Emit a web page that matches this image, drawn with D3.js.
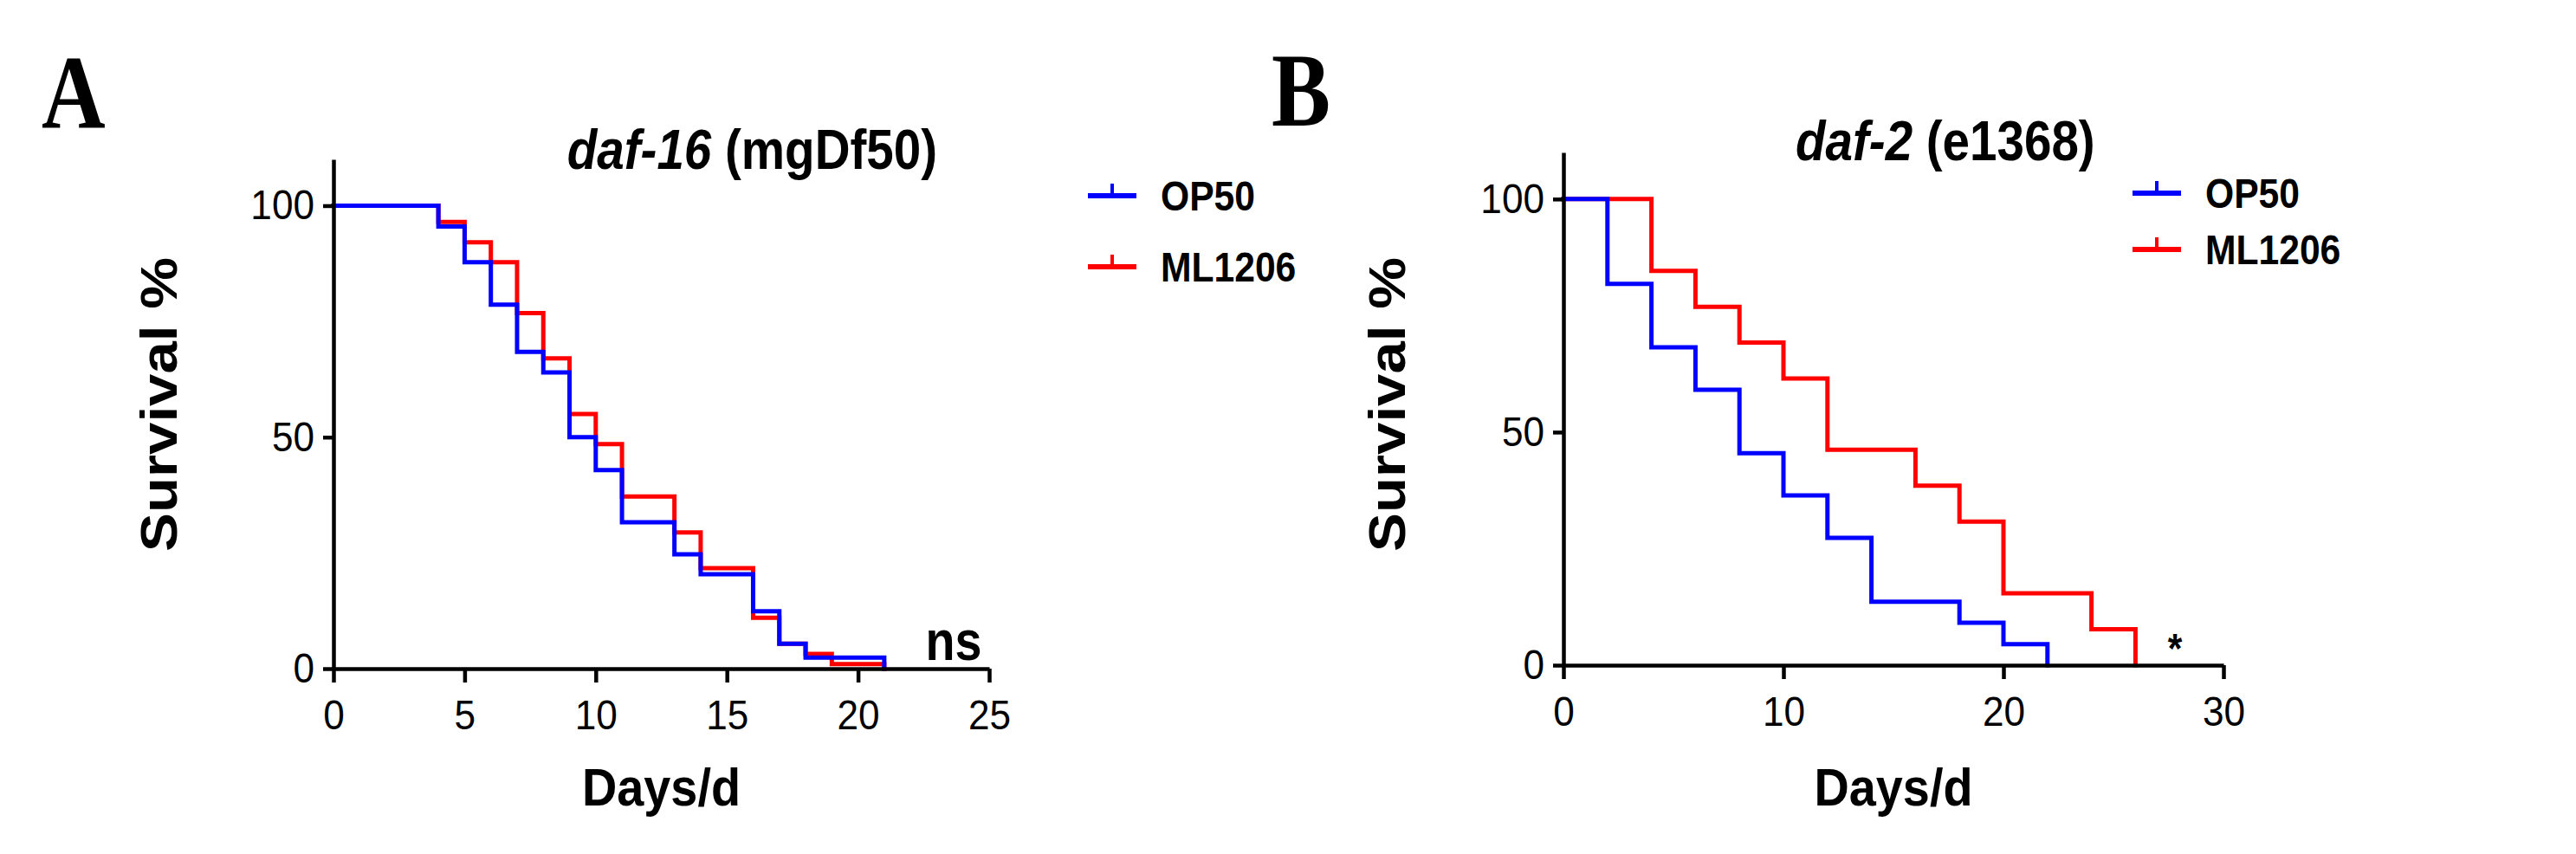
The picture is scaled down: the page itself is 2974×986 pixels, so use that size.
<!DOCTYPE html>
<html>
<head>
<meta charset="utf-8">
<script src="https://cdnjs.cloudflare.com/ajax/libs/d3/7.8.5/d3.min.js"></script>
<style>
  html, body { margin: 0; padding: 0; background: #fff; }
  svg { display: block; }
  text { font-family: "Liberation Sans", Arial, sans-serif; fill: #000; }
</style>
</head>
<body>
<svg id="chart" width="2974" height="986"></svg>
<script>
// panel A: daf-16 (mgDf50)
const daysA_OP50 = [0, 4, 5, 6, 7, 8, 9, 10, 11, 13, 14, 16, 17, 18, 21];
const survA_OP50 = [100, 95.5, 87.8, 78.6, 68.4, 64, 50, 42.9, 31.6, 24.7, 20.4, 12.4, 5.4, 2.4, 0];
const daysA_ML1206 = [0, 4, 5, 6, 7, 8, 9, 10, 11, 13, 14, 16, 17, 18, 19, 21];
const survA_ML1206 = [100, 96.5, 92.1, 87.8, 76.8, 67, 55, 48.5, 37.2, 29.4, 21.7, 11, 5.4, 3.2, 1, 0];

// panel B: daf-2 (e1368)
const daysB_OP50 = [0, 2, 4, 6, 8, 10, 12, 14, 18, 20, 22];
const survB_OP50 = [100, 81.8, 68.2, 59.1, 45.5, 36.4, 27.3, 13.6, 9.1, 4.5, 0];
const daysB_ML1206 = [0, 4, 6, 8, 10, 12, 16, 18, 20, 24, 26];
const survB_ML1206 = [100, 84.6, 76.9, 69.2, 61.5, 46.2, 38.5, 30.8, 15.4, 7.7, 0];

const seriesNames = ['OP50', 'ML1206'];
const seriesColors = ['#0000ff', '#ff0000'];
const yTicks = [0, 50, 100];
const xTicksA = [0, 5, 10, 15, 20, 25];
const xTicksB = [0, 10, 20, 30];

const svg = d3.select('#chart');
svg.append('rect').attr('width', 2974).attr('height', 986).attr('fill', '#fff');

// text in the figure is slightly condensed
function squeeze(sel, k) {
	sel.each(function() {
		let t = d3.select(this);
		let x = +t.attr('x') || 0;
		t.attr('transform', 'scale(' + k + ',1)').attr('x', x / k);
	});
}

function label(g, x, y, txt, size, weight, anchor, k) {
	return g.append('text')
		.attr('transform', 'translate(' + x + ',' + y + ') scale(' + k + ',1)')
		.attr('text-anchor', anchor)
		.style('font-size', size + 'px')
		.style('font-weight', weight)
		.text(txt);
}

function drawPanel(p) {
	let g = svg.append('g');

	let x = d3.scaleLinear().domain(p.xDomain).range([p.left, p.right]);
	let y = d3.scaleLinear().domain([0, 110]).range([p.bottom, p.top]);

	let line = d3.line()
		.x((d) => x(d[0]))
		.y((d) => y(d[1]))
		.curve(d3.curveStepAfter);

	// red first, blue on top
	[1, 0].forEach((i) => {
		let pts = p.days[i].map((d, j) => [d, p.surv[i][j]]);
		g.append('path')
			.attr('d', line(pts))
			.attr('fill', 'none')
			.attr('stroke', seriesColors[i])
			.attr('stroke-width', 5)
			.attr('stroke-linejoin', 'miter')
			.attr('stroke-linecap', 'square');
	});

	let yAxis = g.append('g')
		.attr('transform', 'translate(' + p.left + ',0)')
		.call(d3.axisLeft(y).tickValues(yTicks).tickSize(12).tickSizeOuter(0).tickPadding(10));

	let xAxis = g.append('g')
		.attr('transform', 'translate(0,' + p.bottom + ')')
		.call(d3.axisBottom(x).tickValues(p.xTicks).tickSize(16).tickSizeOuter(0).tickPadding(20));

	[yAxis, xAxis].forEach((a) => {
		a.selectAll('path, line').attr('stroke', '#000').attr('stroke-width', 4.5);
		a.selectAll('text')
			.style('font-size', '48px')
			.style('font-family', '"Liberation Sans", Arial, sans-serif')
			.attr('fill', '#000');
		squeeze(a.selectAll('text'), 0.92);
	});

	// axis titles
	label(g, (p.left + p.right) / 2, 930, 'Days/d', 62, 'bold', 'middle', 0.9);

	g.append('text')
		.attr('transform', 'translate(' + p.yLabelX + ',467) rotate(-90) scale(1.12,1)')
		.attr('text-anchor', 'middle')
		.style('font-size', '60px')
		.style('font-weight', 'bold')
		.text('Survival %');

	// panel title, gene name in italics
	let t = g.append('text')
		.attr('transform', 'translate(' + p.titleX + ',' + p.titleY + ') scale(0.87,1)')
		.attr('text-anchor', p.titleAnchor)
		.style('font-size', '65px')
		.style('font-weight', 'bold');
	t.append('tspan').style('font-style', 'italic').text(p.gene);
	t.append('tspan').text(' ' + p.allele);

	// panel letter
	g.append('text')
		.attr('transform', 'translate(' + p.letterX + ',' + p.letterY + ') scale(0.85,1)')
		.style('font-family', '"Liberation Serif", "Times New Roman", serif')
		.style('font-size', '120px')
		.style('font-weight', 'bold')
		.text(p.letter);

	// legend
	seriesNames.forEach((name, i) => {
		let ly = p.legendY[i];
		g.append('line')
			.attr('x1', p.legendX).attr('x2', p.legendX + 56)
			.attr('y1', ly).attr('y2', ly)
			.attr('stroke', seriesColors[i]).attr('stroke-width', 6);
		g.append('line')
			.attr('x1', p.legendX + 28).attr('x2', p.legendX + 28)
			.attr('y1', ly).attr('y2', ly - 14)
			.attr('stroke', seriesColors[i]).attr('stroke-width', 4);
		label(g, p.legendX + 84, ly + 17, name, 49, 'bold', 'start', 0.87);
	});

	// significance mark
	label(g, p.sigX, p.sigY, p.sig, p.sigSize, 'bold', 'middle', 0.87);
}

drawPanel({
	left: 385, right: 1142, top: 184, bottom: 772,
	xDomain: [0, 25], xTicks: xTicksA,
	days: [daysA_OP50, daysA_ML1206], surv: [survA_OP50, survA_ML1206],
	yLabelX: 204,
	gene: 'daf-16', allele: '(mgDf50)', titleX: 1082, titleY: 195, titleAnchor: 'end',
	letter: 'A', letterX: 48, letterY: 147,
	legendX: 1256, legendY: [226, 308],
	sig: 'ns', sigX: 1101, sigY: 762, sigSize: 64
});

drawPanel({
	left: 1805, right: 2567, top: 176, bottom: 768,
	xDomain: [0, 30], xTicks: xTicksB,
	days: [daysB_OP50, daysB_ML1206], surv: [survB_OP50, survB_ML1206],
	yLabelX: 1622,
	gene: 'daf-2', allele: '(e1368)', titleX: 2073, titleY: 185, titleAnchor: 'start',
	letter: 'B', letterX: 1468, letterY: 145,
	legendX: 2462, legendY: [223, 288],
	sig: '*', sigX: 2511, sigY: 765, sigSize: 49
});
</script>
</body>
</html>
